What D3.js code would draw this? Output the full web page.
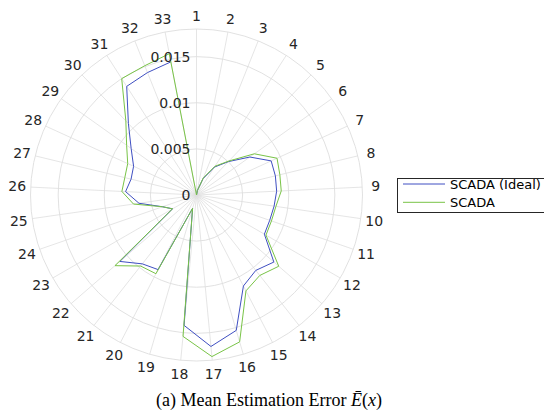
<!DOCTYPE html>
<html>
<head>
<meta charset="utf-8">
<script src="https://cdn.jsdelivr.net/npm/d3@7"></script>
<style>
  html, body { margin: 0; padding: 0; background: #fff; }
  svg { display: block; }
</style>
</head>
<body>
<svg id="chart" width="544" height="417"></svg>
<script>
const categories = ["1","2","3","4","5","6","7","8","9","10","11","12","13","14","15","16","17",
  "18","19","20","21","22","23","24","25","26","27","28","29","30","31","32","33"];
const scadaIdeal = [0, 0.0005, 0.0019, 0.0036, 0.0050, 0.0071, 0.0089, 0.0088, 0.0087, 0.0085, 0.0084,
  0.0085, 0.0111, 0.0104, 0.0111, 0.0153, 0.0165, 0.0142, 0.0015, 0.0091, 0.0095, 0.0110, 0.0030,
  0.0039, 0.0063, 0.0077, 0.0073, 0.0075, 0.0087, 0.0107, 0.0140, 0.0143, 0.0147];
const scada = [0, 0.0005, 0.0020, 0.0037, 0.0051, 0.0077, 0.0096, 0.0093, 0.0092, 0.0087, 0.0086,
  0.0087, 0.0118, 0.0111, 0.0117, 0.0166, 0.0176, 0.0154, 0.0015, 0.0096, 0.0098, 0.0117, 0.0030,
  0.0039, 0.0069, 0.0081, 0.0080, 0.0082, 0.0093, 0.0111, 0.0150, 0.0151, 0.0156];
const rTicks = [0, 0.005, 0.01, 0.015];
const rTickLabels = ["0", "0.005", "0.01", "0.015"];
const rMax = 0.018;
const seriesNames = ["SCADA (Ideal)", "SCADA"];

const svg = d3.select("#chart");
const cx = 196.5, cy = 195, R = 166;
const g = svg.append("g").attr("transform", `translate(${cx},${cy})`);

const r = d3.scaleLinear().domain([0, rMax]).range([0, R]);
const ang = d3.scaleLinear().domain([0, categories.length]).range([0, 2 * Math.PI]);

const gridColor = "#dedede";
// spokes
categories.forEach((c, i) => {
  const a = ang(i);
  g.append("line")
    .attr("x1", 0).attr("y1", 0)
    .attr("x2", R * Math.sin(a)).attr("y2", -R * Math.cos(a))
    .attr("stroke", gridColor).attr("stroke-width", 0.8);
});
// rings
rTicks.filter(t => t > 0).concat([rMax]).forEach(t => {
  g.append("circle").attr("r", r(t))
    .attr("fill", "none").attr("stroke", gridColor).attr("stroke-width", 0.9);
});

// angular labels
categories.forEach((c, i) => {
  const a = ang(i);
  const rl = 179.5;
  g.append("text")
    .attr("x", rl * Math.sin(a)).attr("y", -rl * Math.cos(a))
    .attr("text-anchor", "middle").attr("dominant-baseline", "central")
    .attr("font-family", "DejaVu Sans, sans-serif").attr("font-size", 14)
    .attr("fill", "#262626").text(c);
});

// lines
const lineOpen = d3.lineRadial().angle((d, i) => ang(i)).radius(d => r(d));
const lineClosed = d3.lineRadial().angle((d, i) => ang(i)).radius(d => r(d)).curve(d3.curveLinearClosed);
g.append("path").attr("d", lineOpen(scadaIdeal))
  .attr("fill", "none").attr("stroke", "#3f4fc2").attr("stroke-width", 1);
g.append("path").attr("d", lineClosed(scada))
  .attr("fill", "none").attr("stroke", "#79c447").attr("stroke-width", 1);

// radial tick labels
rTicks.forEach((t, i) => {
  g.append("text")
    .attr("x", -6).attr("y", -r(t))
    .attr("text-anchor", "end").attr("dominant-baseline", "central")
    .attr("font-family", "DejaVu Sans, sans-serif").attr("font-size", 14)
    .attr("fill", "#262626").text(rTickLabels[i]);
});

// legend
const lg = svg.append("g");
lg.append("rect").attr("x", 397.5).attr("y", 178.5).attr("width", 160).attr("height", 34)
  .attr("fill", "#fff").attr("stroke", "#262626").attr("stroke-width", 1);
const legColors = ["#3f4fc2", "#79c447"];
seriesNames.forEach((s, i) => {
  const y = 184 + i * 18.3;
  lg.append("line").attr("x1", 403).attr("x2", 445).attr("y1", y).attr("y2", y)
    .attr("stroke", legColors[i]).attr("stroke-width", 1);
  lg.append("text").attr("x", 450).attr("y", y)
    .attr("dominant-baseline", "central")
    .attr("font-family", "DejaVu Sans, sans-serif").attr("font-size", 13)
    .attr("fill", "#000").text(s);
});

// caption
const cap = svg.append("text").attr("x", 269).attr("y", 406)
  .attr("text-anchor", "middle")
  .attr("font-family", "Liberation Serif, Times New Roman, serif").attr("font-size", 18)
  .attr("fill", "#000");
cap.append("tspan").text("(a) Mean Estimation Error ");
cap.append("tspan").attr("font-style", "italic").text("E\u0304");
cap.append("tspan").text("(");
cap.append("tspan").attr("font-style", "italic").text("x");
cap.append("tspan").text(")");
</script>
</body>
</html>
